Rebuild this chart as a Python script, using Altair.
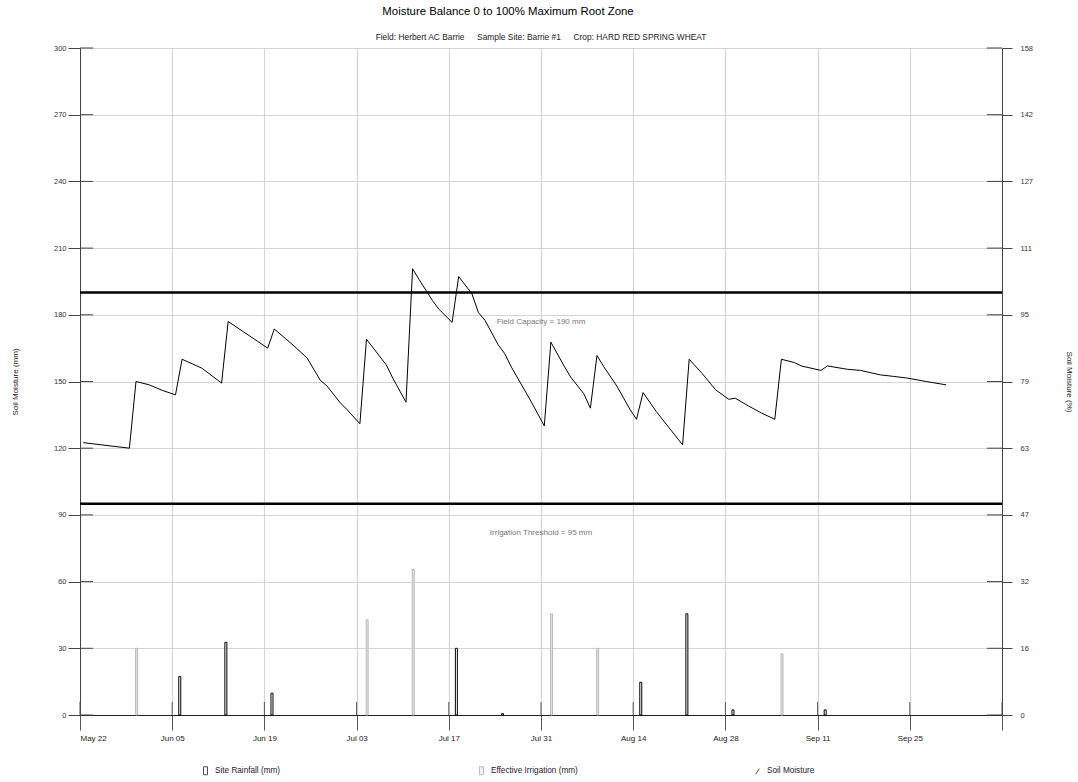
import altair as alt
import pandas as pd

FONT = "Liberation Sans"

title_text = "Moisture Balance 0 to 100% Maximum Root Zone"
subtitle_text = ("Field: Herbert AC Barrie\u2003\u2002Sample Site: Barrie #1"
                 "\u2003\u2002Crop: HARD RED SPRING WHEAT")

# x axis: days since May 22
tick_days = [0, 14, 28, 42, 56, 70, 84, 98, 112, 126, 140]
tick_labels = ["May 22", "Jun 05", "Jun 19", "Jul 03", "Jul 17", "Jul 31",
               "Aug 14", "Aug 28", "Sep 11", "Sep 25", ""]
y_ticks = [0, 30, 60, 90, 120, 150, 180, 210, 240, 270, 300]
pct_labels = ["0", "16", "32", "47", "63", "79", "95", "111", "127", "142", "158"]

# soil moisture (mm), daily values read at mid-day
moisture_day = [0.5, 7.5, 8.5, 10.5, 12.5, 14.5, 15.5, 18.5, 21.5, 22.5,
                28.5, 29.5, 32.5, 34.5, 35.5, 36.5, 37.5, 39.5, 40.5, 42.5,
                43.5, 46.5, 47.5, 49.5, 50.5, 51.5, 53.5, 54.5, 56.5, 57.5,
                59.5, 60.5, 61.5, 63.5, 64.5, 65.5, 68.5, 70.5, 71.5, 73.5,
                74.5, 76.5, 77.5, 78.5, 79.5, 81.5, 83.5, 84.5, 85.5, 87.5,
                91.5, 92.5, 94.5, 96.5, 98.5, 99.5, 101.5, 103.5, 105.5, 106.5,
                108.5, 109.5, 112.5, 113.5, 116.5, 118.5, 121.5, 123.5, 125.5, 128.5,
                131.5]
moisture_mm = [122.5, 120.0, 150.0, 148.5, 146.0, 144.0, 160.0, 156.0, 149.3, 177.0,
               165.0, 173.6, 166.0, 160.5, 155.5, 150.5, 148.0, 140.5, 137.5, 131.0,
               169.0, 157.5, 151.5, 140.7, 200.7, 195.8, 186.5, 182.5, 176.6, 197.2,
               189.5, 181.0, 177.5, 166.5, 162.5, 156.5, 141.0, 130.0, 167.7, 157.0,
               152.0, 144.5, 138.0, 161.7, 156.8, 148.0, 137.5, 133.0, 145.0, 136.5,
               121.5, 160.0, 153.5, 146.3, 142.0, 142.5, 139.0, 135.8, 133.0, 160.0,
               158.5, 157.0, 155.0, 157.0, 155.5, 155.0, 153.0, 152.3, 151.6, 150.0,
               148.5]

rain_day = [15, 22, 29, 57, 64, 85, 92, 99, 113]
rain_mm = [17.3, 32.7, 9.8, 30.0, 0.6, 14.7, 45.5, 2.3, 2.3]
irr_day = [8, 43, 50, 71, 78, 106]
irr_mm = [30.0, 42.8, 65.5, 45.5, 30.0, 27.5]

threshold_mm = [190, 95]
threshold_text = ["Field Capacity = 190 mm", "Irrigation Threshold = 95 mm"]

legend_names = ["Site Rainfall (mm)", "Effective Irrigation (mm)", "Soil Moisture"]

moist_df = pd.DataFrame({"day": moisture_day, "mm": moisture_mm})
rain_df = pd.DataFrame({"day": rain_day, "mm": rain_mm})
irr_df = pd.DataFrame({"day": irr_day, "mm": irr_mm})
thr_df = pd.DataFrame({"mm": threshold_mm, "label": threshold_text})
xt_df = pd.DataFrame({"day": tick_days})
yt_df = pd.DataFrame({"mm": y_ticks})
leg_df = pd.DataFrame({"series": legend_names})


def lookup_expr(values, labels):
    expr = "''"
    for v, lab in reversed(list(zip(values, labels))):
        expr = f"(abs(datum.value - {v}) < 0.01 ? '{lab}' : {expr})"
    return expr


W, H = 922, 667
xdom = [tick_days[0], tick_days[-1]]
xscale = alt.Scale(domain=xdom, nice=False, zero=False, padding=0)
yscale = alt.Scale(domain=[0, 300], nice=False, padding=0)

x_axis = alt.Axis(values=tick_days, labelExpr=lookup_expr(tick_days, tick_labels),
                  orient="bottom",
                  grid=True, gridColor="#d4d4d4", gridWidth=1.2,
                  tickSize=15, tickColor="#555", domainColor="#222",
                  labelFontSize=8, labelColor="#222", labelPadding=4,
                  labelFont=FONT)
y_left_axis = alt.Axis(values=y_ticks, title="Soil Moisture (mm)", orient="left",
                       grid=True, gridColor="#d4d4d4", gridWidth=1.2,
                       tickSize=12, tickColor="#444", domainColor="#444",
                       labelFontSize=7.5, labelColor="#333", labelPadding=2,
                       labelFont=FONT, titleFont=FONT, titleFontSize=8,
                       titleFontWeight="normal", titleColor="#222",
                       titleX=-65, titleY=H / 2, titleAngle=270,
                       titleAlign="center", titleBaseline="middle")
y_right_axis = alt.Axis(values=y_ticks, title="Soil Moisture (%)", orient="right",
                        labelExpr=lookup_expr(y_ticks, pct_labels),
                        grid=False, tickSize=10, tickColor="#444", domainColor="#444",
                        labelFontSize=7.5, labelColor="#333", labelPadding=8,
                        labelFont=FONT, titleFont=FONT, titleFontSize=8,
                        titleFontWeight="normal", titleColor="#222",
                        titleX=66, titleY=H / 2, titleAngle=90,
                        titleAlign="center", titleBaseline="middle")

# moisture line carries the bottom and left axes
line = alt.Chart(moist_df).mark_line(color="black", strokeWidth=1).encode(
    x=alt.X("day:Q", scale=xscale, axis=x_axis, title=None),
    y=alt.Y("mm:Q", scale=yscale, axis=y_left_axis),
)

rules = alt.Chart(thr_df).mark_rule(color="black", strokeWidth=2.5).encode(
    y=alt.Y("mm:Q", scale=yscale, axis=y_right_axis),
)

x_mid = (xdom[0] + xdom[1]) / 2
thr_text = alt.Chart(thr_df).transform_calculate(mid=str(x_mid)).mark_text(
    font=FONT, fontSize=8, color="#777", dy=29, align="center", baseline="middle"
).encode(
    x=alt.X("mid:Q", scale=xscale, axis=None),
    y=alt.Y("mm:Q", scale=yscale, axis=None),
    text="label:N",
)

irr_bars = alt.Chart(irr_df).transform_calculate(xpos="datum.day + 0.6").mark_bar(
    orient="vertical", size=2, fill="#e4e4e4", stroke="#b8b8b8", strokeWidth=1
).encode(
    x=alt.X("xpos:Q", scale=xscale, axis=None),
    y=alt.Y("mm:Q", scale=yscale, axis=None),
)

rain_bars = alt.Chart(rain_df).transform_calculate(xpos="datum.day + 0.15").mark_bar(
    orient="vertical", size=2, fill="white", stroke="black", strokeWidth=1
).encode(
    x=alt.X("xpos:Q", scale=xscale, axis=None),
    y=alt.Y("mm:Q", scale=yscale, axis=None),
)

# inner halves of the axis ticks
inner_left = alt.Chart(yt_df).mark_rule(color="#444", strokeWidth=1).encode(
    y=alt.Y("mm:Q", scale=yscale, axis=None), x=alt.value(0), x2=alt.value(13))
inner_right = alt.Chart(yt_df).mark_rule(color="#444", strokeWidth=1).encode(
    y=alt.Y("mm:Q", scale=yscale, axis=None), x=alt.value(W - 15), x2=alt.value(W))
inner_bottom = alt.Chart(xt_df).mark_rule(color="#555", strokeWidth=1).encode(
    x=alt.X("day:Q", scale=xscale, axis=None), y=alt.value(H - 13), y2=alt.value(H))

subtitle = alt.Chart(pd.DataFrame({"t": [subtitle_text]})).mark_text(
    font=FONT, fontSize=8.4, color="#222", align="center", baseline="middle"
).encode(x=alt.value(W / 2), y=alt.value(-11), text="t:N")

rect_path = "M-0.5,-1H0.5V1H-0.5Z"
slash_path = "M-0.45,0.7L0.45,-0.7"
leg = alt.Legend(title=None, orient="none", legendX=121, legendY=718,
                 direction="horizontal", columns=3, gridAlign="all",
                 columnPadding=175, labelFont=FONT, labelFontSize=8.2,
                 labelColor="#222", symbolSize=64, symbolStrokeWidth=1,
                 labelOffset=5)
legend_layer = alt.Chart(leg_df).transform_filter("false").mark_point(
    filled=True, size=64
).encode(
    shape=alt.Shape("series:N", scale=alt.Scale(domain=legend_names,
                    range=[rect_path, rect_path, slash_path]), legend=leg),
    fill=alt.Fill("series:N", scale=alt.Scale(domain=legend_names,
                  range=["white", "#e4e4e4", "transparent"]), legend=leg),
    stroke=alt.Stroke("series:N", scale=alt.Scale(domain=legend_names,
                      range=["black", "#a0a0a0", "black"]), legend=leg),
)

chart = alt.layer(
    line, inner_left, inner_right, inner_bottom, irr_bars, rain_bars,
    rules, thr_text, subtitle, legend_layer,
).resolve_axis(x="independent", y="independent").properties(
    width=W, height=H,
    title=alt.TitleParams(title_text, font=FONT, fontSize=11.4, fontWeight="normal",
                          color="black", anchor="middle", dx=-33, offset=16),
    autosize=alt.AutoSizeParams(type="none"),
    padding={"left": 80, "top": 48, "right": 76, "bottom": 67},
).configure_view(stroke=None).configure(background="white")

chart.save("out.html", embed_options={"renderer": "svg", "actions": False})
